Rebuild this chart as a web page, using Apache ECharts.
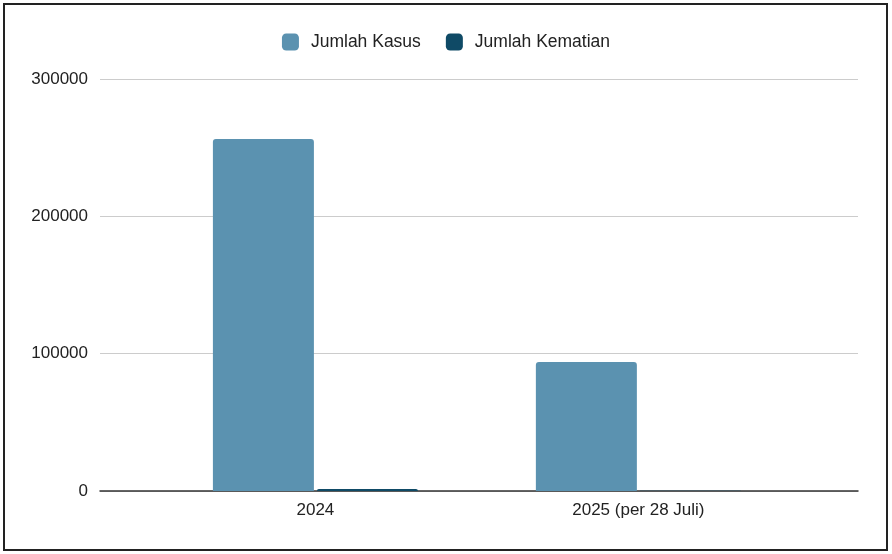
<!DOCTYPE html>
<html lang="id" style="height: 100%">
<head>
  <meta charset="utf-8">
</head>
<body style="height: 100%; margin: 0; background: #fff">
  <div id="container" style="position: absolute; left: 0; top: 0; width: 892px; height: 554px"></div>
  <div style="position: absolute; left: 3px; top: 3px; width: 881px; height: 544px; border: 2px solid #222; pointer-events: none"></div>

  <script type="text/javascript" src="https://fastly.jsdelivr.net/npm/echarts@6/dist/echarts.min.js"></script>

  <script type="text/javascript">
    const kategori = ['2024', '2025 (per 28 Juli)'];
    const jumlahKasus = [256300, 93900];
    const jumlahKematian = [1400, 200];
    const yTicks = [0, 100000, 200000, 300000];

    var dom = document.getElementById('container');
    var myChart = echarts.init(dom, null, { renderer: 'canvas' });

    var font = 'Liberation Sans, Arial, sans-serif';

    var option = {
      animation: false,
      legend: {
        top: 28,
        left: 'center',
        itemWidth: 17,
        itemHeight: 17,
        itemGap: 25,
        icon: 'roundRect',
        textStyle: { fontFamily: font, fontSize: 17.5, color: '#222', padding: [0, 0, 0, 7] },
        data: ['Jumlah Kasus', 'Jumlah Kematian']
      },
      grid: { left: 100, right: 34, top: 79, bottom: 63 },
      xAxis: {
        type: 'value',
        min: -0.667,
        max: 1.68,
        splitLine: { show: false },
        axisLine: { show: true, onZero: false, lineStyle: { color: '#333', width: 1.5 } },
        axisTick: { show: false },
        axisLabel: {
          customValues: kategori.map((k, i) => i),
          formatter: function (v) { return kategori[Math.round(v)]; },
          fontFamily: font,
          fontSize: 17,
          color: '#222',
          margin: 11
        }
      },
      yAxis: {
        type: 'value',
        min: yTicks[0],
        max: yTicks[yTicks.length - 1],
        interval: 100000,
        axisLine: { show: false },
        axisTick: { show: false },
        axisLabel: {
          formatter: function (v) { return String(v); },
          fontFamily: font,
          fontSize: 17,
          color: '#222',
          margin: 12
        },
        splitLine: { lineStyle: { color: '#cccccc', width: 1 } }
      },
      series: [
        {
          name: 'Jumlah Kasus',
          type: 'bar',
          barWidth: 101,
          barGap: '3%',
          color: '#5b92b0',
          itemStyle: { borderRadius: [3, 3, 0, 0] },
          data: jumlahKasus.map((v, i) => [i, v])
        },
        {
          name: 'Jumlah Kematian',
          type: 'bar',
          barWidth: 101,
          barGap: '3%',
          color: '#0f4a66',
          itemStyle: { borderRadius: [2, 2, 0, 0] },
          data: jumlahKematian.map((v, i) => [i, v])
        }
      ]
    };

    myChart.setOption(option);
    window.addEventListener('resize', myChart.resize);
  </script>
</body>
</html>
